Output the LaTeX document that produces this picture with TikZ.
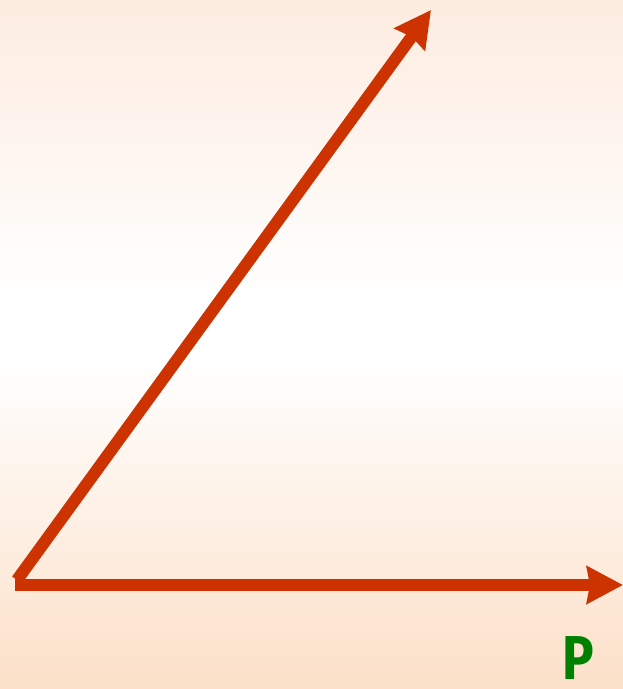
\documentclass[tikz,border=0pt]{standalone}
\usepackage{fontspec}
\setmainfont{Fira Sans}
\usetikzlibrary{arrows.meta}
\definecolor{arrowred}{RGB}{204,51,0}
\definecolor{peachtop}{RGB}{253,236,224}
\definecolor{peachbot}{RGB}{252,224,200}
\definecolor{labelgreen}{RGB}{0,128,0}
\tikzset{
  vecarrow/.style={draw=arrowred, line width=12pt, line cap=butt,
    -{Stealth[length=36pt,width=37pt,inset=3pt]}},
  lbl/.style={text=labelgreen, font=\fontsize{62}{62}\selectfont\bfseries, inner sep=0pt, xscale=0.85, anchor=base}
}
\begin{document}
\begin{tikzpicture}[x=1pt,y=-1pt]
  \useasboundingbox (0,0) rectangle (623,689);
  \shade[top color=peachtop, bottom color=white] (0,0) rectangle (623,300);
  \fill[white] (0,300) rectangle (623,360);
  \shade[top color=white, bottom color=peachbot] (0,360) rectangle (623,689);
  \coordinate (o) at (15,585);
  \coordinate (od) at (17,580);
  \coordinate (h) at (623,585);
  \coordinate (d) at (431,10);
  \draw[vecarrow] (od) -- (d);
  \draw[vecarrow] (o) -- (h);
  \node[lbl] (p) at (578,679) {P};
\end{tikzpicture}
\end{document}
